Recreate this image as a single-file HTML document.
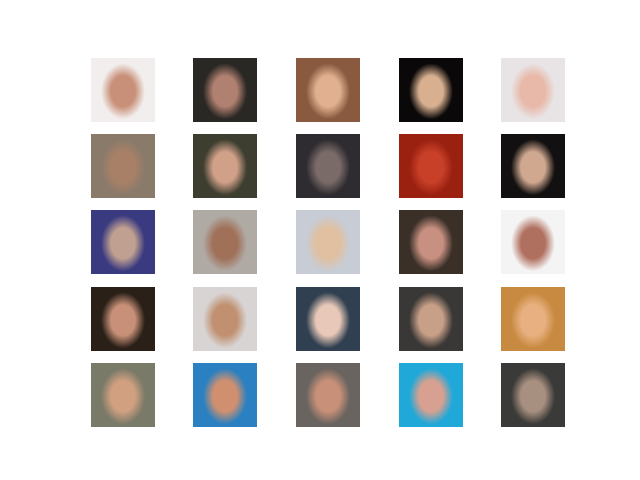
<!DOCTYPE html>
<html><head><meta charset="utf-8"><style>
body{margin:0;background:#fff;}
#fig{position:relative;width:640px;height:480px;background:#fff;overflow:hidden;}
.cell{position:absolute;width:64px;height:64px;}
</style></head><body>
<div id="fig"></div>
<script>
const bgColors=["#f2eeee","#2a2824","#8a5a40","#0a0808","#e8e4e6",
"#8a7a6a","#3e3e30","#2e2c30","#9a2010","#121010",
"#3a3a80","#b0aaa4","#c8ccd4","#3a3028","#f4f4f4",
"#2a2018","#d8d4d4","#304050","#3a3836","#c88a40",
"#7a7a68","#2a80c0","#6a6460","#20a8d8","#3a3a38"];
const faceColors=["#c89078","#b08070","#e0b090","#d8b090","#e8b8a8",
"#a88068","#d0a088","#7a6a68","#c84028","#d0a890",
"#c0a090","#a07058","#e0c0a0","#c89080","#b07060",
"#c89078","#c09070","#e8c8b8","#c8a088","#e8b080",
"#d0a080","#d09070","#c89078","#d8a090","#a89080"];
const colX=[91,193,296,399,501];
const rowY=[58,134,210,287,363];
const fig=document.getElementById('fig');
for(let i=0;i<bgColors.length;i++){
  const el=document.createElement('div');
  el.className='cell';
  
  
  el.style.left=colX[i%5]+'px';
  el.style.top=rowY[Math.floor(i/5)]+'px';
  el.style.background='radial-gradient(ellipse 22px 28px at 50% 52%,'+faceColors[i]+' 0%,'+faceColors[i]+' 55%,'+bgColors[i]+' 100%)';
  fig.appendChild(el);
}
</script>
</body></html>
